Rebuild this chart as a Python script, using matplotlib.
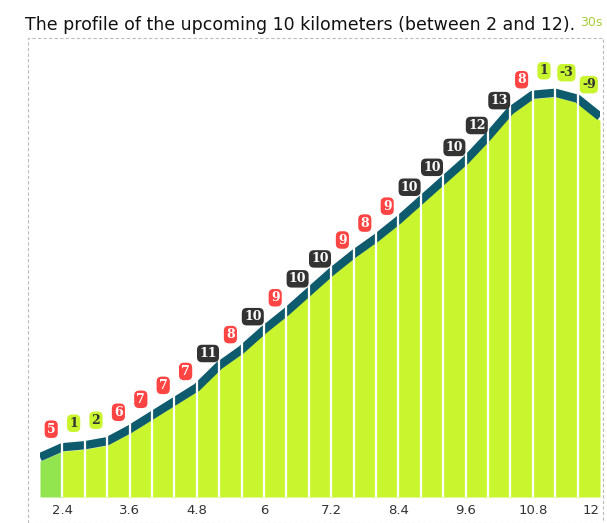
import matplotlib

matplotlib.use("Agg")
import matplotlib.pyplot as plt
from matplotlib.patches import Rectangle

# gradient (%) for each 400 m segment between km 2 and 12
grades = [5, 1, 2, 6, 7, 7, 7, 11, 8, 10, 9, 10, 10, 9, 8, 9, 10, 10, 10, 12, 13, 8, 1, -3, -9]
seg = 0.4
xs = [2 + i * seg for i in range(len(grades) + 1)]
elev = [0.0]
for g in grades:
    elev.append(elev[-1] + g * seg * 10)

W, H = 607, 523
fig = plt.figure(figsize=(W / 100, H / 100), dpi=100)
ax = fig.add_axes([40 / W, 26 / H, 560 / W, (497 - 38) / H])
ax.set_xlim(2, 12)
ax.set_ylim(-72, 850)

for i, g in enumerate(grades):
    color = "#93e550" if i == 0 else "#c9f52f"
    ax.fill_between(xs[i:i + 2], -72, elev[i:i + 2], color=color, linewidth=0)
ax.plot(xs, [e + 8 for e in elev], color="#0f5b6e", linewidth=6, solid_capstyle="butt", zorder=3)
for x in xs[1:-1]:
    ax.axvline(x, color="white", linewidth=1.6, zorder=4)

for i, g in enumerate(grades):
    if g >= 10:
        bg, fg = "#333333", "white"
    elif g >= 3:
        bg, fg = "#ff4444", "white"
    else:
        bg, fg = "#c9f52f", "#333333"
    xm = xs[i] + seg / 2
    ym = (elev[i] + elev[i + 1]) / 2
    ax.annotate(str(g), (xm, ym), xytext=(0, 27), textcoords="offset pixels",
                ha="center", va="center", fontsize=9, fontweight="bold", color=fg,
                family="DejaVu Serif", zorder=6,
                bbox=dict(boxstyle="round,pad=0.18,rounding_size=0.4", fc=bg, ec="none"))

ax.set_xticks([2.4, 3.6, 4.8, 6, 7.2, 8.4, 9.6, 10.8, 12])
ax.set_xticklabels(["2.4", "3.6", "4.8", "6", "7.2", "8.4", "9.6", "10.8", "12"])
ax.get_xticklabels()[-1].set_horizontalalignment("right")
ax.set_yticks([])
ax.tick_params(axis="x", length=0, labelsize=9.5, colors="#333333", pad=5)
for s in ax.spines.values():
    s.set_visible(False)

fig.patches.append(Rectangle((28 / W, 0), (603 - 28) / W, (523 - 38) / H, transform=fig.transFigure,
                             fill=False, ec="#bbbbbb", ls=(0, (3, 2)), lw=0.8))
fig.text(25 / W, 1 - 25 / H, "The profile of the upcoming 10 kilometers (between 2 and 12).",
         fontsize=12.5, va="center", ha="left", color="#111111")
fig.text(602 / W, 1 - 22 / H, "30s", fontsize=9, va="center", ha="right", color="#a8cc3a")
fig.savefig("out.png", dpi=100)
